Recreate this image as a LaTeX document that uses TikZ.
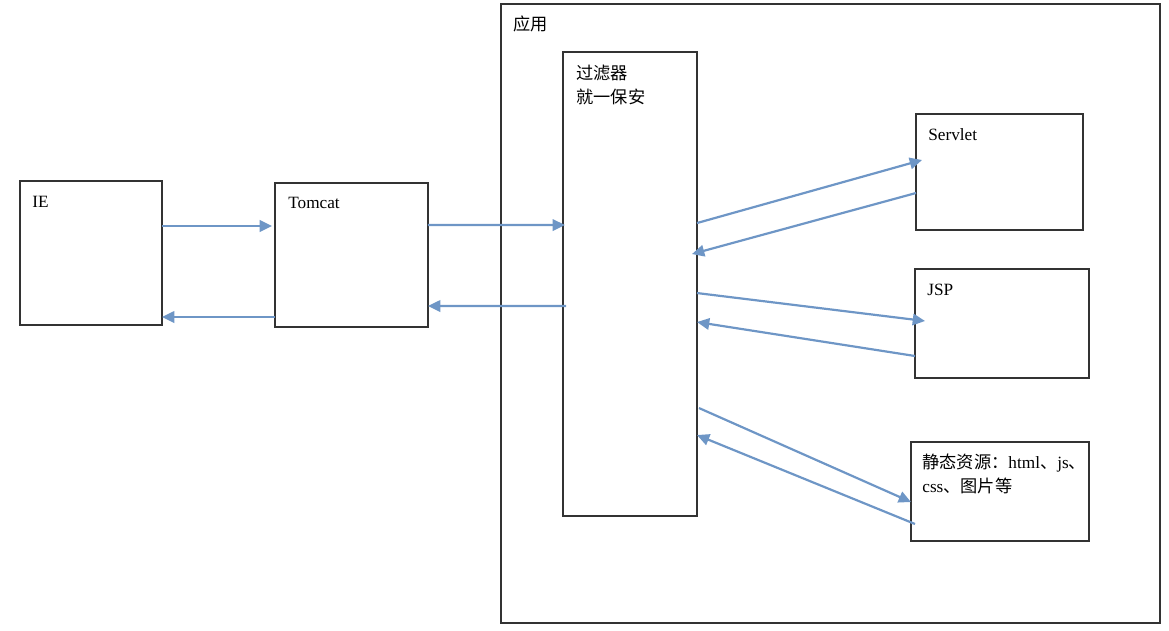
\documentclass[tikz,border=0pt]{standalone}
\usepackage{fontspec}
\setmainfont{Liberation Serif}
\newfontfamily\cjk{Noto Sans CJK SC}
\usepackage{xcolor}
\usetikzlibrary{arrows.meta}
\newcommand{\zh}[1]{{\cjk #1}}
\definecolor{flowblue}{RGB}{110,150,198}

\begin{document}
\begin{tikzpicture}[x=0.02cm, y=-0.02cm,
  box/.style={draw=black!80, line width=0.7pt, inner sep=0pt, outer sep=0pt},
  lbl/.style={anchor=north west, inner sep=0pt, align=left, font=\fontsize{9.8}{13.2}\selectfont},
  flow/.style={draw=flowblue, line width=1.25pt, -{Triangle[length=7pt,width=6.5pt]}}]
 \useasboundingbox (0,0) rectangle (1169,631);
 % boxes
 \node[box, minimum width=2.84cm, minimum height=2.88cm] (ie) at (91,253) {};
 \node[box, minimum width=3.06cm, minimum height=2.88cm] (tomcat) at (351.5,255) {};
 \node[box, minimum width=13.18cm, minimum height=12.38cm] (app) at (830.5,313.5) {};
 \node[box, minimum width=2.68cm, minimum height=9.28cm] (filter) at (630,284) {};
 \node[box, minimum width=3.34cm, minimum height=2.32cm] (servlet) at (999.5,172) {};
 \node[box, minimum width=3.48cm, minimum height=2.18cm] (jsp) at (1002,323.5) {};
 \node[box, minimum width=3.56cm, minimum height=1.98cm] (static) at (1000,491.5) {};
 % labels
 \node[lbl] (ielbl) at ([shift={(12,15)}]ie.north west) {IE};
 \node[lbl] (tomcatlbl) at ([shift={(13,14)}]tomcat.north west) {Tomcat};
 \node[lbl] (applbl) at ([shift={(12,11)}]app.north west) {\zh{应用}};
 \node[lbl] (filterlbl) at ([shift={(13,13)}]filter.north west) {\zh{过滤器}\\\zh{就一保安}};
 \node[lbl] (servletlbl) at ([shift={(12,14)}]servlet.north west) {Servlet};
 \node[lbl] (jsplbl) at ([shift={(12,15)}]jsp.north west) {JSP};
 \node[lbl] (staticlbl) at ([shift={(11,12)}]static.north west) {\zh{静态资源：}html\zh{、}js\zh{、}\\css\zh{、图片等}};
 % request / response
 \draw[flow] ([shift={(0,45)}]ie.north east) -- ([shift={(-3,43)}]tomcat.north west);
 \draw[flow] ([shift={(0,134)}]tomcat.north west) -- ([shift={(0,136)}]ie.north east);
 \draw[flow] ([shift={(0,42)}]tomcat.north east) -- ([shift={(2,173)}]filter.north west);
 \draw[flow] ([shift={(3,254)}]filter.north west) -- ([shift={(0,123)}]tomcat.north east);
 \draw[flow] ([shift={(0,171)}]filter.north east) -- ([shift={(6,46)}]servlet.north west);
 \draw[flow] ([shift={(0,79)}]servlet.north west) -- ([shift={(-5,202)}]filter.north east);
 \draw[flow] ([shift={(0,241)}]filter.north east) -- ([shift={(10,52)}]jsp.north west);
 \draw[flow] ([shift={(0,87)}]jsp.north west) -- ([shift={(0,270)}]filter.north east);
 \draw[flow] ([shift={(2,356)}]filter.north east) -- ([shift={(0,60)}]static.north west);
 \draw[flow] ([shift={(4,82)}]static.north west) -- ([shift={(0,383)}]filter.north east);
\end{tikzpicture}
\end{document}
